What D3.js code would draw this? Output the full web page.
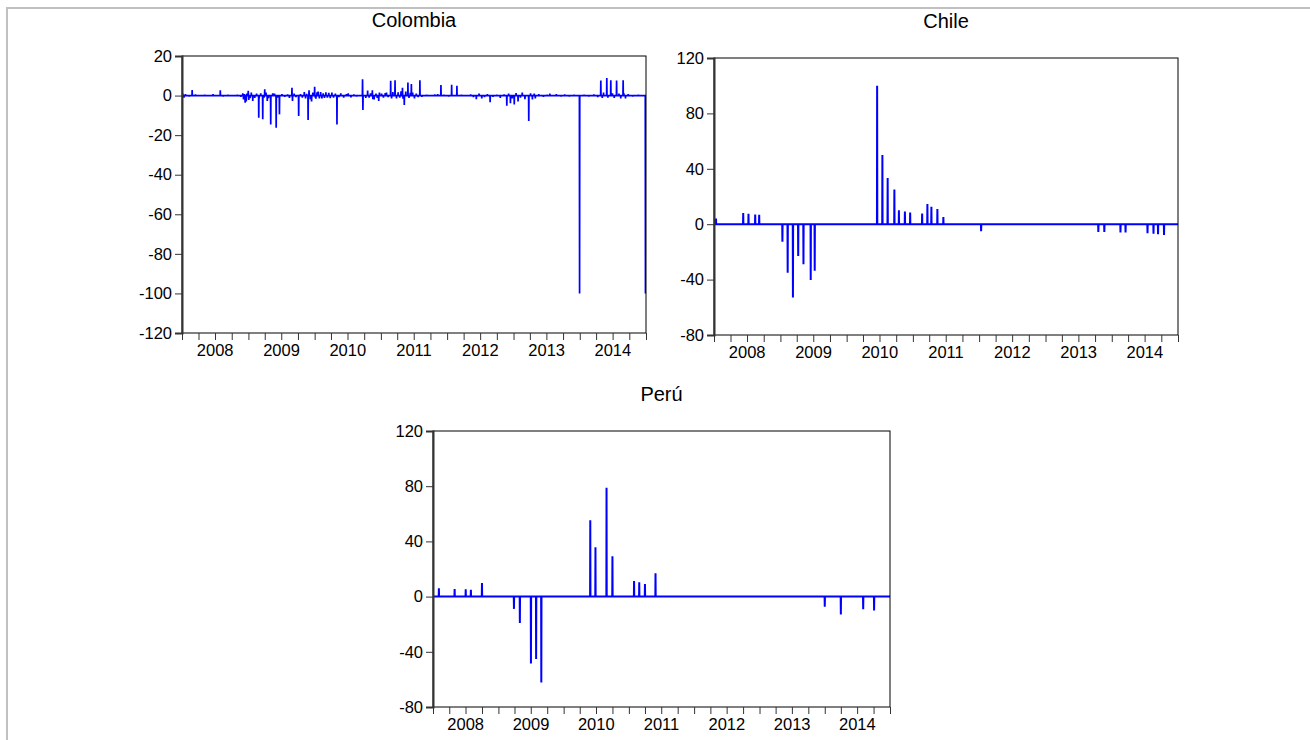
<!DOCTYPE html>
<html>
<head>
<meta charset="utf-8">
<script src="https://cdn.jsdelivr.net/npm/d3@7"></script>
<style>
  html, body { margin: 0; padding: 0; background: #fff; }
  svg text { font-family: "Liberation Sans", Arial, sans-serif; fill: #000; }
</style>
</head>
<body>
<svg id="chart" width="1310" height="740"></svg>
<script>
// Colombia: daily series, mostly near zero with occasional spikes
const colombia = [
  ["2008-01-05", 1.0], ["2008-01-12", -1.0], ["2008-01-20", 0.8], ["2008-02-10", -0.5],
  ["2008-02-26", 2.8], ["2008-03-15", 0.6], ["2008-04-10", -0.4], ["2008-05-05", 0.5],
  ["2008-06-01", -0.4], ["2008-06-20", 0.7], ["2008-07-30", 2.7], ["2008-08-15", -0.5],
  ["2008-09-10", 0.4], ["2008-10-05", -0.4], ["2008-11-01", 0.5], ["2008-11-20", -0.6],
  ["2008-12-01", 1.2], ["2008-12-05", -2.0], ["2008-12-10", 0.8], ["2008-12-14", -3.6],
  ["2008-12-20", -3.0], ["2008-12-24", 1.0], ["2008-12-31", 2.4], ["2009-01-03", -2.2],
  ["2009-01-10", -1.3], ["2009-01-17", 1.5], ["2009-01-25", -2.7], ["2009-02-05", -1.2],
  ["2009-02-15", 1.0], ["2009-02-27", -11.2], ["2009-03-01", -1.5], ["2009-03-10", 1.2],
  ["2009-03-21", -12.0], ["2009-03-28", -1.0], ["2009-04-01", 3.2], ["2009-04-08", 1.5],
  ["2009-04-15", -2.7], ["2009-04-22", -1.3], ["2009-05-04", -14.6], ["2009-05-15", 1.2],
  ["2009-05-25", 1.0], ["2009-06-03", -16.3], ["2009-06-10", -1.0], ["2009-06-21", -9.5],
  ["2009-07-05", 0.8], ["2009-07-20", -0.7], ["2009-08-05", 0.6], ["2009-08-15", -1.2],
  ["2009-08-29", 4.0], ["2009-09-01", -2.7], ["2009-09-10", 1.0], ["2009-09-20", -0.8],
  ["2009-10-05", -10.3], ["2009-10-15", 0.7], ["2009-10-25", -1.0], ["2009-11-05", 1.8],
  ["2009-11-12", -1.5], ["2009-11-18", 0.9], ["2009-11-26", -12.4], ["2009-12-01", 2.7],
  ["2009-12-08", -1.8], ["2009-12-15", -3.0], ["2009-12-22", 1.5], ["2010-01-01", 4.4],
  ["2010-01-05", -1.1], ["2010-01-08", -1.6], ["2010-01-14", 1.6], ["2010-01-20", 2.0],
  ["2010-01-27", -1.4], ["2010-02-03", 1.8], ["2010-02-10", -1.5], ["2010-02-17", 1.2],
  ["2010-02-24", -1.2], ["2010-03-04", 1.7], ["2010-03-12", -1.0], ["2010-03-20", 1.4],
  ["2010-03-28", -1.3], ["2010-04-06", 1.5], ["2010-04-15", -1.0], ["2010-04-25", 1.0],
  ["2010-05-04", -14.6], ["2010-05-15", -0.8], ["2010-05-25", 1.2], ["2010-06-10", -1.0],
  ["2010-06-25", 0.8], ["2010-07-05", 1.2], ["2010-07-20", -0.9], ["2010-08-05", 0.6],
  ["2010-08-20", -0.5], ["2010-09-22", 8.3], ["2010-09-24", -7.3], ["2010-10-10", -1.2],
  ["2010-10-20", 2.5], ["2010-10-28", -1.0], ["2010-11-05", 1.2], ["2010-11-15", 2.7],
  ["2010-11-18", -1.8], ["2010-11-25", -2.0], ["2010-12-05", 1.0], ["2010-12-12", -1.2],
  ["2010-12-20", -2.7], ["2010-12-24", 1.5], ["2011-01-05", 1.0], ["2011-01-15", -1.0],
  ["2011-01-25", 1.3], ["2011-02-01", 1.5], ["2011-02-10", -0.8], ["2011-02-24", 7.5],
  ["2011-03-01", -1.5], ["2011-03-08", 1.8], ["2011-03-20", 7.8], ["2011-03-28", -1.4],
  ["2011-04-06", 1.6], ["2011-04-15", -1.0], ["2011-04-22", 2.2], ["2011-04-30", 4.0],
  ["2011-05-03", -1.6], ["2011-05-10", -4.7], ["2011-05-18", 2.0], ["2011-05-30", 6.6],
  ["2011-06-05", -1.2], ["2011-06-12", 1.4], ["2011-06-18", 5.8], ["2011-06-25", 1.5],
  ["2011-07-05", -1.4], ["2011-07-15", 1.0], ["2011-07-25", -0.8], ["2011-08-04", 7.8],
  ["2011-08-15", -0.6], ["2011-09-10", 0.5], ["2011-10-05", -0.4], ["2011-10-25", 0.6],
  ["2011-11-10", 0.8], ["2011-11-28", 5.3], ["2011-12-15", 0.5], ["2012-01-10", -0.5],
  ["2012-01-26", 5.4], ["2012-02-24", 4.9], ["2012-03-20", 0.4], ["2012-04-15", -0.4],
  ["2012-05-10", 0.6], ["2012-05-25", -0.8], ["2012-06-10", -1.8], ["2012-06-25", 1.0],
  ["2012-07-10", -1.5], ["2012-07-25", -0.8], ["2012-08-10", 0.8], ["2012-08-25", -3.4],
  ["2012-09-10", -0.6], ["2012-10-01", 0.5], ["2012-10-20", -1.2], ["2012-11-10", 0.6],
  ["2012-11-25", -5.1], ["2012-12-05", 1.0], ["2012-12-15", -3.9], ["2012-12-25", -1.4],
  ["2013-01-05", -4.5], ["2013-01-15", 1.3], ["2013-01-26", -3.0], ["2013-02-08", -1.0],
  ["2013-02-18", 1.5], ["2013-03-05", -1.8], ["2013-03-26", -12.9], ["2013-04-05", 1.2],
  ["2013-04-15", -2.0], ["2013-04-25", 1.0], ["2013-05-01", -1.5], ["2013-05-20", 0.8],
  ["2013-06-15", -0.6], ["2013-07-05", 0.5], ["2013-07-20", 1.0], ["2013-08-10", -0.4],
  ["2013-08-25", 0.8], ["2013-09-20", -0.5], ["2013-10-10", 0.6], ["2013-11-05", -0.5],
  ["2013-12-01", 0.5], ["2013-12-31", -100.0], ["2014-01-25", 0.4], ["2014-02-20", -0.5],
  ["2014-03-20", 0.6], ["2014-04-10", -0.8], ["2014-04-27", 7.6], ["2014-05-05", -1.2],
  ["2014-05-12", 1.5], ["2014-05-30", 8.9], ["2014-06-05", -1.0], ["2014-06-21", 7.8],
  ["2014-06-30", 1.2], ["2014-07-10", -1.2], ["2014-07-23", 7.6], ["2014-08-05", 1.0],
  ["2014-08-15", -1.4], ["2014-08-28", 7.8], ["2014-09-01", 1.2], ["2014-09-10", -1.4],
  ["2014-09-25", 0.8], ["2014-10-20", -0.5], ["2014-11-20", 0.5], ["2014-12-29", -100.0]
];

// Chile: isolated non-zero observations
const chile = [
  ["2008-01-12", 4.1], ["2008-06-10", 8.0], ["2008-07-09", 7.5], ["2008-08-15", 7.0],
  ["2008-09-06", 6.8], ["2009-01-12", -12.6], ["2009-02-10", -35.0], ["2009-03-11", -53.0],
  ["2009-04-09", -23.0], ["2009-05-08", -29.0], ["2009-06-17", -40.3], ["2009-07-09", -33.6],
  ["2010-06-18", 100.0], ["2010-07-17", 50.0], ["2010-08-15", 33.3], ["2010-09-21", 25.1],
  ["2010-10-16", 10.1], ["2010-11-18", 9.2], ["2010-12-17", 8.5], ["2011-02-21", 7.7],
  ["2011-03-22", 14.5], ["2011-04-13", 12.6], ["2011-05-16", 10.9], ["2011-06-18", 5.1],
  ["2012-01-12", -5.1], ["2013-10-19", -5.6], ["2013-11-21", -5.6], ["2014-02-18", -6.0],
  ["2014-03-18", -6.0], ["2014-07-17", -6.5], ["2014-08-19", -6.8], ["2014-09-13", -7.2],
  ["2014-10-16", -7.7]
];

// Perú: isolated non-zero observations
const peru = [
  ["2008-02-03", 6.0], ["2008-05-01", 5.5], ["2008-07-02", 5.3], ["2008-07-31", 5.0],
  ["2008-10-01", 9.8], ["2009-03-29", -8.9], ["2009-05-01", -19.2], ["2009-07-02", -48.4],
  ["2009-07-31", -45.3], ["2009-08-29", -62.3], ["2010-05-30", 55.3], ["2010-06-28", 35.7],
  ["2010-08-29", 78.8], ["2010-10-01", 29.2], ["2011-01-30", 11.3], ["2011-02-28", 10.3],
  ["2011-04-01", 9.1], ["2011-05-30", 17.0], ["2014-01-01", -7.4], ["2014-04-01", -12.9],
  ["2014-08-04", -9.1], ["2014-10-04", -10.1]
];

const years = [2008, 2009, 2010, 2011, 2012, 2013, 2014];
const colombiaTicks = [20, 0, -20, -40, -60, -80, -100, -120];
const wideTicks = [120, 80, 40, 0, -40, -80];

const panels = [
  { title: "Colombia", data: colombia, yDomain: [-120, 20], yTicks: colombiaTicks,
    box: { left: 182, right: 646, top: 56, bottom: 333 }, titleY: 27, width: 1.7 },
  { title: "Chile", data: chile, yDomain: [-80, 120], yTicks: wideTicks,
    box: { left: 714, right: 1178, top: 58, bottom: 335 }, titleY: 28, width: 2 },
  { title: "Perú", data: peru, yDomain: [-80, 120], yTicks: wideTicks,
    box: { left: 433, right: 890, top: 431, bottom: 707 }, titleY: 401, width: 2 }
];

const svg = d3.select("#chart");
const parse = d3.utcParse("%Y-%m-%d");
const start = new Date(Date.UTC(years[0], 0, 1));
const end = new Date(Date.UTC(years[years.length - 1] + 1, 0, 1));
const DAY = 86400000;

// outer frame
svg.append("path")
  .attr("d", "M7,740 V8 H1310")
  .attr("fill", "none").attr("stroke", "#c0c0c0").attr("stroke-width", 2);

panels.forEach((p, i) => {
  const b = p.box;
  const x = d3.scaleUtc().domain([start, end]).range([b.left, b.right]);
  const y = d3.scaleLinear().domain(p.yDomain).range([b.bottom, b.top]);
  const g = svg.append("g");

  const clipId = "clip" + i;
  svg.append("clipPath").attr("id", clipId)
    .append("rect").attr("x", b.left).attr("y", b.top)
    .attr("width", b.right - b.left).attr("height", b.bottom - b.top);

  // series: zero between observations, spikes at each observation
  const pts = [[start, 0]];
  p.data.forEach(([d, v]) => {
    const t = parse(d);
    pts.push([new Date(+t - DAY), 0], [t, v], [new Date(+t + DAY), 0]);
  });
  pts.push([end, 0]);
  pts.sort((a, c) => a[0] - c[0]);

  const line = d3.line().x(d => x(d[0])).y(d => y(d[1]));
  g.append("path")
    .datum(pts)
    .attr("clip-path", `url(#${clipId})`)
    .attr("fill", "none")
    .attr("stroke", "#0000ff")
    .attr("stroke-width", p.width)
    .attr("stroke-linejoin", "miter")
    .attr("d", line);

  // plot frame
  g.append("rect")
    .attr("x", b.left).attr("y", b.top)
    .attr("width", b.right - b.left).attr("height", b.bottom - b.top)
    .attr("fill", "none").attr("stroke", "#000").attr("stroke-width", 1);

  // y axis
  const ya = g.append("g").attr("transform", `translate(${b.left},0)`)
    .call(d3.axisLeft(y).tickValues(p.yTicks).tickSize(7).tickPadding(3)
      .tickFormat(d => String(d)));
  ya.select(".domain").attr("stroke", "#333").attr("stroke-width", 2);
  ya.selectAll(".tick line").attr("stroke", "#333");
  ya.selectAll("text").attr("font-size", 16.5).attr("font-family", "Liberation Sans, Arial, sans-serif");

  // x axis: quarterly ticks, year labels centred on each year
  const quarters = d3.utcMonth.every(3).range(start, new Date(+end + DAY));
  const xa = g.append("g").attr("transform", `translate(0,${b.bottom})`)
    .call(d3.axisBottom(x).tickValues(quarters).tickSize(7).tickFormat(""));
  xa.select(".domain").remove();
  xa.selectAll(".tick line").attr("stroke", "#333");

  g.selectAll(".yearLabel")
    .data(years).enter().append("text")
    .attr("x", d => (x(new Date(Date.UTC(d, 0, 1))) + x(new Date(Date.UTC(d + 1, 0, 1)))) / 2)
    .attr("y", b.bottom + 23)
    .attr("text-anchor", "middle")
    .attr("font-size", 16.5)
    .text(d => d);

  g.append("text")
    .attr("x", (b.left + b.right) / 2)
    .attr("y", p.titleY)
    .attr("text-anchor", "middle")
    .attr("font-size", 20)
    .text(p.title);
});
</script>
</body>
</html>
